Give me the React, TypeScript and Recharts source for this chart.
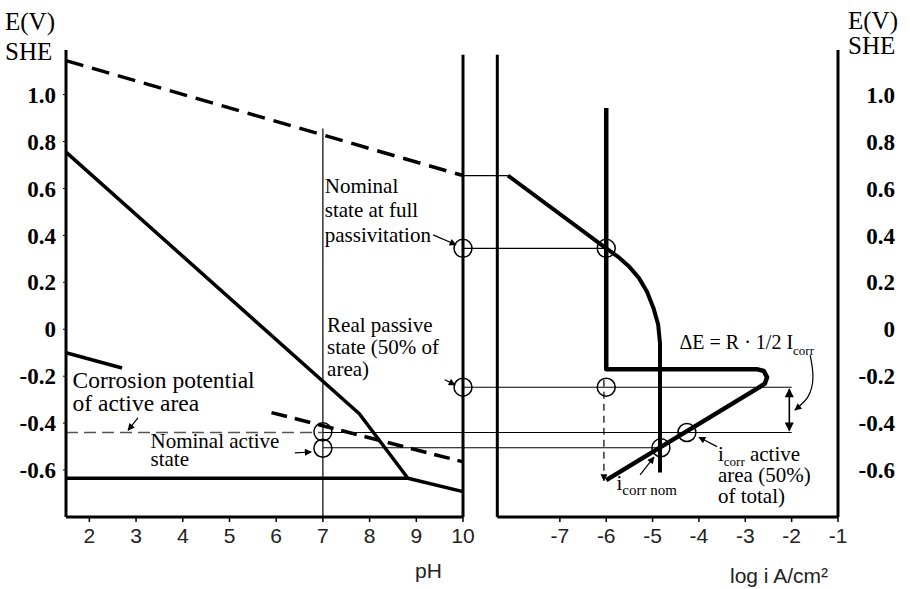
import React from "react";
import {
  ComposedChart, Line, Scatter, XAxis, YAxis, ReferenceLine, ReferenceDot,
} from "recharts";

const SERIF = "'Liberation Serif', 'Times New Roman', serif";
const SANS = "'Liberation Sans', Arial, sans-serif";

// shared potential scale (V vs SHE)
const E_DOMAIN: [number, number] = [-0.8, 1.19];
const E_TICKS = [1.0, 0.8, 0.6, 0.4, 0.2, 0, -0.2, -0.4, -0.6];
const PH_TICKS = [2, 3, 4, 5, 6, 7, 8, 9, 10];
const LOGI_TICKS = [-7, -6, -5, -4, -3, -2, -1];

// ---- potential / pH side (x = pH, y = E)
const oxygenLine = [{ x: 1.5, y: 1.145 }, { x: 10, y: 0.655 }];
const oxideLine = [{ x: 1.5, y: 0.755 }, { x: 7.78, y: -0.36 }, { x: 8.82, y: -0.635 }, { x: 10, y: -0.692 }];
const activeFloor = [{ x: 1.5, y: -0.635 }, { x: 8.82, y: -0.635 }];
const hydrogenStub = [{ x: 1.5, y: -0.1 }, { x: 2.7, y: -0.165 }];
const hydrogenTail = [{ x: 5.9, y: -0.355 }, { x: 10, y: -0.565 }];
const ecorrActivePh = [{ x: 1.5, y: -0.44 }, { x: 7, y: -0.44 }];
const ecorrLinkPh = [{ x: 7, y: -0.44 }, { x: 10, y: -0.44 }];
const nominalLinkPh = [{ x: 7, y: -0.505 }, { x: 10, y: -0.505 }];
const statesPh = [{ x: 10, y: 0.345 }, { x: 10, y: -0.247 }, { x: 7, y: -0.437 }, { x: 7, y: -0.507 }];
const pointersPh = [
  [{ x: 9.36, y: 0.402 }, { x: 9.85, y: 0.36 }],
  [{ x: 9.61, y: -0.215 }, { x: 9.83, y: -0.237 }],
  [{ x: 3.04, y: -0.378 }, { x: 2.83, y: -0.43 }],
  [{ x: 6.4, y: -0.527 }, { x: 6.75, y: -0.523 }],
];

// ---- polarisation side (x = log i, y = E)
const passiveLink = [{ x: -9.09, y: 0.655 }, { x: -8.12, y: 0.655 }];
const anodicNominal = [
  { x: -8.12, y: 0.655 }, { x: -6.0, y: 0.345 }, { x: -5.75, y: 0.31 }, { x: -5.52, y: 0.27 },
  { x: -5.3, y: 0.22 }, { x: -5.12, y: 0.16 }, { x: -4.98, y: 0.09 }, { x: -4.88, y: 0.02 },
  { x: -4.84, y: -0.06 }, { x: -4.84, y: -0.61 },
];
const anodicReal = [
  { x: -6, y: 0.943 }, { x: -6, y: -0.17 }, { x: -2.75, y: -0.17 }, { x: -2.6, y: -0.178 },
  { x: -2.53, y: -0.205 }, { x: -2.58, y: -0.232 }, { x: -2.72, y: -0.25 }, { x: -6.0, y: -0.643 },
];
const fullPassiveLink = [{ x: -9.09, y: 0.345 }, { x: -6, y: 0.345 }];
const realPassiveLink = [{ x: -9.09, y: -0.247 }, { x: -2, y: -0.247 }];
const ecorrLinkLog = [{ x: -9.09, y: -0.44 }, { x: -2, y: -0.44 }];
const nominalLinkLog = [{ x: -9.09, y: -0.505 }, { x: -4.82, y: -0.505 }];
const statesLog = [{ x: -6, y: 0.345 }, { x: -6, y: -0.247 }, { x: -4.26, y: -0.44 }, { x: -4.82, y: -0.505 }];
const icorrNomDrop = [{ x: -6.05, y: -0.215 }, { x: -6.05, y: -0.645 }];
const deltaE = [{ x: -2.05, y: -0.255 }, { x: -2.05, y: -0.432 }];
const deltaELeader = [
  { x: -1.6, y: -0.11 }, { x: -1.54, y: -0.203 }, { x: -1.65, y: -0.288 }, { x: -1.93, y: -0.344 },
];
const pointersLog = [
  [{ x: -5.27, y: -0.621 }, { x: -4.97, y: -0.545 }],
  [{ x: -3.61, y: -0.5 }, { x: -4.0, y: -0.46 }],
];

const base = { dataKey: "y", type: "linear" as const, dot: false, activeDot: false, isAnimationActive: false, strokeLinejoin: "round" as const };
const thick = { ...base, stroke: "#000", strokeWidth: 3.5 };
const thin = { ...base, stroke: "#000", strokeWidth: 1.2 };

const ring = (p: any) => <circle cx={p.cx} cy={p.cy} r={9} fill="none" stroke="#000" strokeWidth={1.5} />;

type Note = { x: number; y: number; lines: React.ReactNode[]; step: number; size?: number };
const note = (n: Note) => (p: any) => (
  <g>
    {n.lines.map((l, i) => (
      <text key={i} x={p.cx} y={p.cy + i * n.step} fontFamily={SERIF} fontSize={n.size ?? 21} fill="#000">{l}</text>
    ))}
  </g>
);

const phNotes: Note[] = [
  { x: 7.04, y: 0.581, lines: ["Nominal", "state at full", "passivitation"], step: 24.5 },
  { x: 7.09, y: -0.01, lines: ["Real passive", "state (50% of", "area)"], step: 22 },
  { x: 1.64, y: -0.249, lines: ["Corrosion potential", "of active area"], step: 23, size: 23.5 },
  { x: 3.31, y: -0.507, lines: ["Nominal active", "state"], step: 18 },
];

const logNotes: Note[] = [
  { x: -4.42, y: -0.085, step: 0, size: 20, lines: [<>ΔE = R · 1/2 I<tspan dy={6} fontSize={13}>corr</tspan></>] },
  {
    x: -3.59, y: -0.56, step: 21,
    lines: [<>i<tspan dy={5} fontSize={13}>corr</tspan><tspan dy={-5}> active</tspan></>, "area (50%)", "of total)"],
  },
  { x: -5.78, y: -0.685, step: 0, lines: [<>i<tspan dy={5} fontSize={15}>corr nom</tspan></>] },
];

const eTick = (v: number) => (v === 0 ? "0" : v.toFixed(1));
const eTickStyle = { fontFamily: SERIF, fontSize: 23, fontWeight: 700, fill: "#000" };
const xTickStyle = { fontFamily: SANS, fontSize: 21, fill: "#222" };

function PhPanel() {
  return (
    <ComposedChart width={910} height={589} margin={{ top: 50, right: 447, bottom: 42, left: 10 }}>
      <XAxis dataKey="x" type="number" domain={[1.5, 10]} ticks={PH_TICKS} height={30}
        axisLine={{ stroke: "#000", strokeWidth: 3 }} tickLine={{ stroke: "#000", strokeWidth: 1.5 }}
        tickSize={5} tickMargin={6} tick={xTickStyle} />
      <YAxis dataKey="y" type="number" domain={E_DOMAIN} ticks={E_TICKS} width={56} tickFormatter={eTick}
        axisLine={{ stroke: "#000", strokeWidth: 3 }} tickLine={{ stroke: "#000", strokeWidth: 1 }}
        tickSize={3} tickMargin={7} tick={eTickStyle} />
      <ReferenceLine segment={[{ x: 10, y: -0.8 }, { x: 10, y: 1.17 }]} stroke="#000" strokeWidth={3} />
      <ReferenceLine segment={[{ x: 7, y: -0.8 }, { x: 7, y: 0.855 }]} stroke="#000" strokeWidth={1.2} />

      <Line data={oxygenLine} {...thick} strokeDasharray="18 9" />
      <Line data={oxideLine} {...thick} />
      <Line data={activeFloor} {...thick} />
      <Line data={hydrogenStub} {...thick} />
      <Line data={hydrogenTail} {...thick} strokeDasharray="16 8" />
      <Line data={ecorrActivePh} {...base} stroke="#555" strokeWidth={1.5} strokeDasharray="12 6" />
      <Line data={ecorrLinkPh} {...thin} />
      <Line data={nominalLinkPh} {...thin} />
      {pointersPh.map((d, i) => (
        <Line key={i} data={d} {...thin} markerEnd="url(#tip)" />
      ))}
      <Scatter data={statesPh} shape={ring} isAnimationActive={false} />
      {phNotes.map((n, i) => (
        <ReferenceDot key={i} x={n.x} y={n.y} r={0} ifOverflow="visible" shape={note(n)} />
      ))}
    </ComposedChart>
  );
}

function LogPanel() {
  return (
    <ComposedChart width={910} height={589} margin={{ top: 50, right: 12, bottom: 42, left: 463 }}>
      <XAxis dataKey="x" type="number" domain={[-9.09, -1]} ticks={LOGI_TICKS} height={30}
        axisLine={false} tickLine={{ stroke: "#000", strokeWidth: 1.5 }}
        tickSize={5} tickMargin={6} tick={xTickStyle} />
      <YAxis dataKey="y" type="number" orientation="right" domain={E_DOMAIN} ticks={E_TICKS} width={60}
        tickFormatter={eTick} axisLine={{ stroke: "#000", strokeWidth: 3 }} tickLine={false}
        tickSize={0} tickMargin={57} tick={{ ...eTickStyle, textAnchor: "end" }} />
      <ReferenceLine segment={[{ x: -8.35, y: -0.8 }, { x: -1, y: -0.8 }]} stroke="#000" strokeWidth={3} />
      <ReferenceLine segment={[{ x: -8.35, y: -0.8 }, { x: -8.35, y: 1.17 }]} stroke="#000" strokeWidth={3} />

      <Line data={passiveLink} {...thin} />
      <Line data={fullPassiveLink} {...thin} />
      <Line data={realPassiveLink} {...thin} />
      <Line data={ecorrLinkLog} {...thin} />
      <Line data={nominalLinkLog} {...thin} />
      <Line data={anodicNominal} {...thick} strokeWidth={4} />
      <Line data={anodicReal} {...thick} strokeWidth={4.5} />
      <Line data={icorrNomDrop} {...thin} strokeDasharray="7 5" markerEnd="url(#tip)" />
      <Line data={deltaE} {...thin} strokeWidth={1.6} markerStart="url(#tipBig)" markerEnd="url(#tipBig)" />
      <Line data={deltaELeader} {...thin} type="natural" markerEnd="url(#tip)" />
      {pointersLog.map((d, i) => (
        <Line key={i} data={d} {...thin} markerEnd="url(#tip)" />
      ))}
      <Scatter data={statesLog} shape={ring} isAnimationActive={false} />
      {logNotes.map((n, i) => (
        <ReferenceDot key={i} x={n.x} y={n.y} r={0} ifOverflow="visible" shape={note(n)} />
      ))}
    </ComposedChart>
  );
}

export default function App() {
  const layer: React.CSSProperties = { position: "absolute", left: 0, top: 0 };
  return (
    <div style={{ position: "absolute", left: 0, top: 0, width: 910, height: 589, background: "#fff" }}>
      <svg width={0} height={0} style={{ position: "absolute" }}>
        <defs>
          <marker id="tip" viewBox="0 0 10 10" refX="9" refY="5" markerWidth="9" markerHeight="7"
            markerUnits="userSpaceOnUse" orient="auto-start-reverse">
            <path d="M0,0 L10,5 L0,10 z" fill="#000" />
          </marker>
          <marker id="tipBig" viewBox="0 0 10 10" refX="9" refY="5" markerWidth="11" markerHeight="9"
            markerUnits="userSpaceOnUse" orient="auto-start-reverse">
            <path d="M0,0 L10,5 L0,10 z" fill="#000" />
          </marker>
        </defs>
      </svg>
      <div style={layer}><PhPanel /></div>
      <div style={layer}><LogPanel /></div>
      <svg width={910} height={589} style={{ ...layer, pointerEvents: "none" }}>
        <g fontFamily={SERIF} fontSize={25} fill="#000">
          <text x={5} y={30}>E(V)</text>
          <text x={5} y={60}>SHE</text>
          <text x={848} y={29}>E(V)</text>
          <text x={848} y={54}>SHE</text>
        </g>
        <g fontFamily={SANS} fontSize={21} fill="#222">
          <text x={415} y={578}>pH</text>
          <text x={730} y={583}>log i A/cm²</text>
        </g>
      </svg>
    </div>
  );
}
